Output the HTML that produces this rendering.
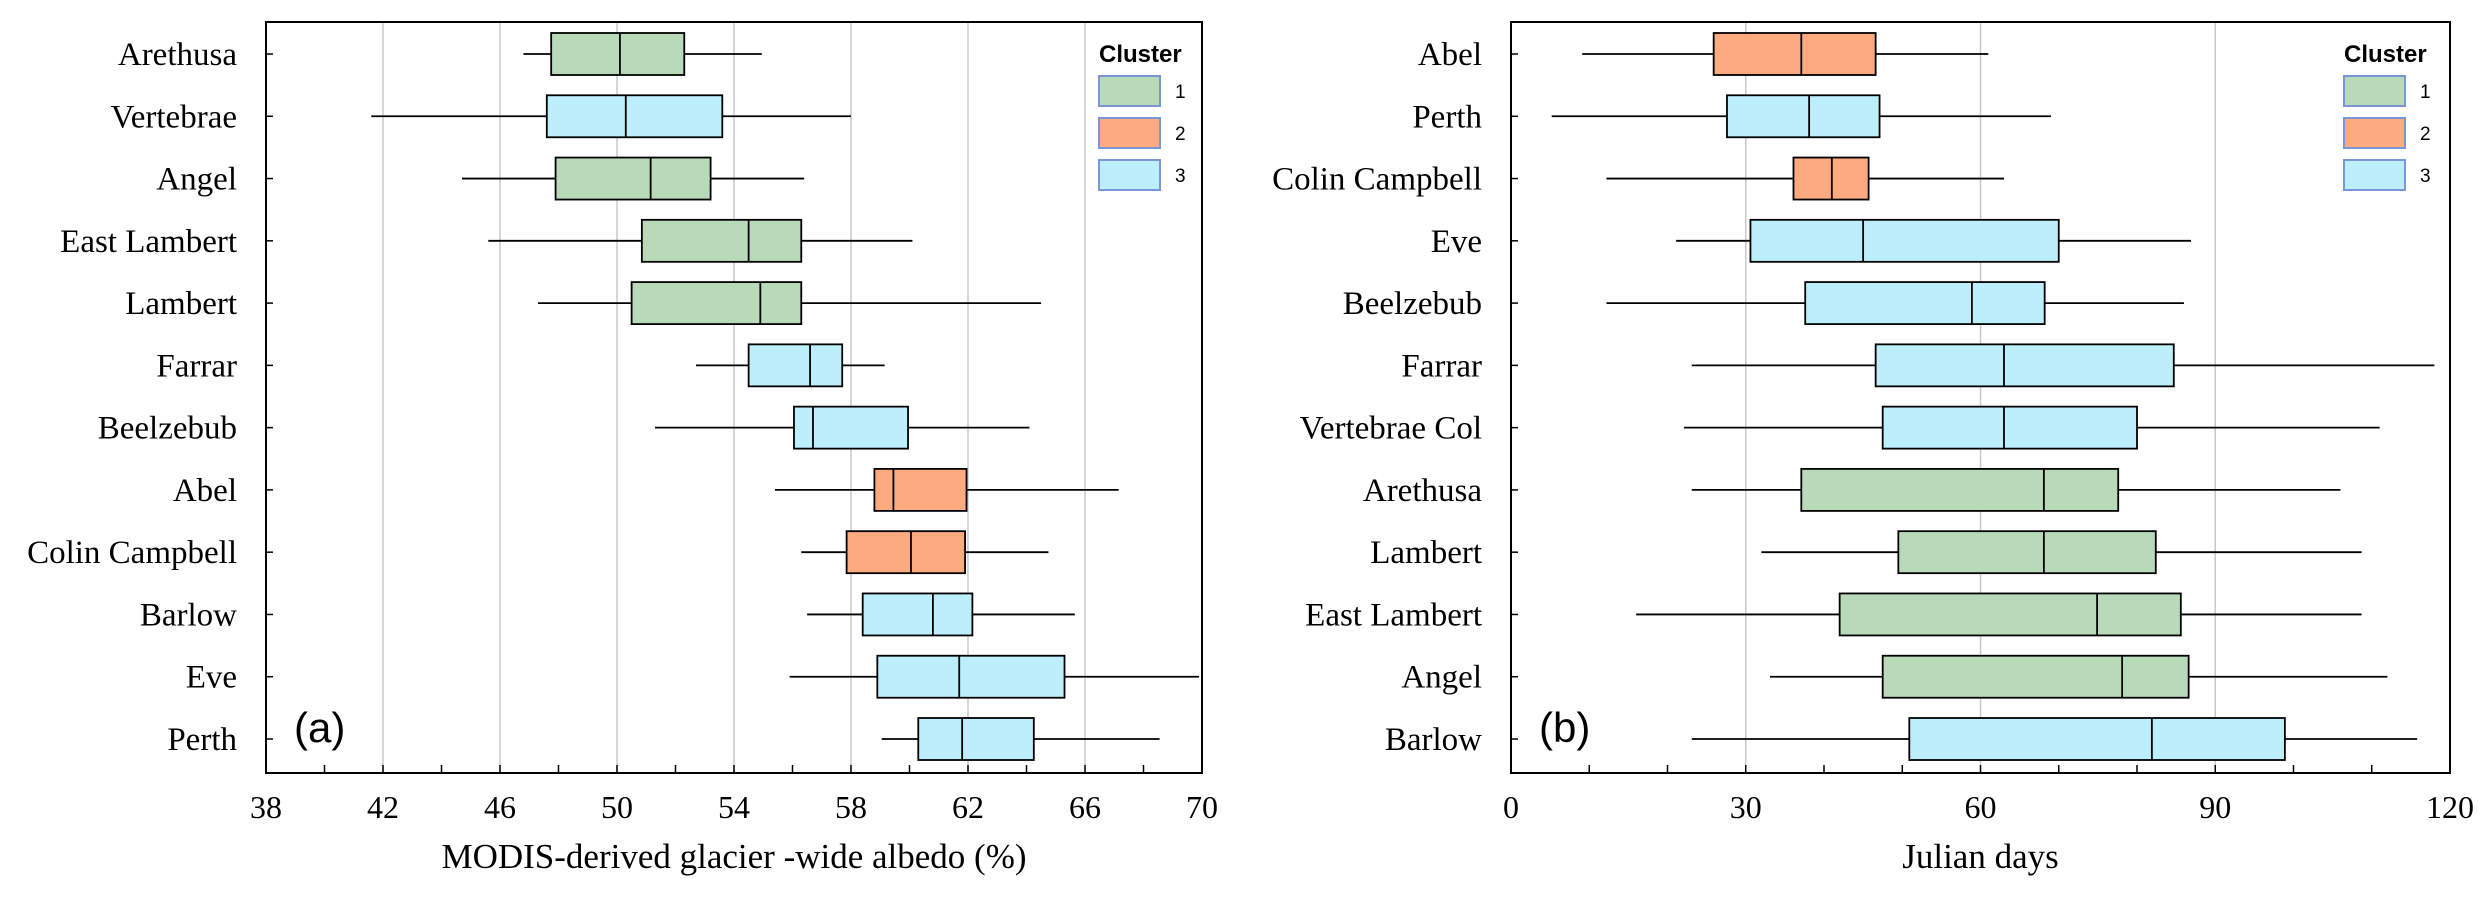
<!DOCTYPE html>
<html><head><meta charset="utf-8"><style>
html,body{margin:0;padding:0;background:#fff;overflow:hidden;}
svg{display:block;}
</style></head><body>
<svg id="chart" width="2483" height="900" xmlns="http://www.w3.org/2000/svg"></svg>
<script>
const clusterColors = ['#b9dab9','#fdaa80','#bdeefc'];
// Panel (a)
const catsA = ['Arethusa','Vertebrae','Angel','East Lambert','Lambert','Farrar','Beelzebub','Abel','Colin Campbell','Barlow','Eve','Perth'];
const clusterA = [1,3,1,1,1,3,3,2,2,3,3,3];
const minA = [46.8,41.6,44.7,45.6,47.3,52.7,51.3,55.4,56.3,56.5,55.9,59.05];
const q1A  = [47.75,47.6,47.9,50.85,50.5,54.5,56.05,58.8,57.85,58.4,58.9,60.3];
const medA = [50.1,50.3,51.15,54.5,54.9,56.6,56.7,59.45,60.05,60.8,61.7,61.8];
const q3A  = [52.3,53.6,53.2,56.3,56.3,57.7,59.95,61.95,61.9,62.15,65.3,64.25];
const maxA = [54.95,58.0,56.4,60.1,64.5,59.15,64.1,67.15,64.75,65.65,69.9,68.55];
const ticksA = [38,42,46,50,54,58,62,66,70];
const minorA = [40,44,48,52,56,60,64,68];
// Panel (b)
const catsB = ['Abel','Perth','Colin Campbell','Eve','Beelzebub','Farrar','Vertebrae Col','Arethusa','Lambert','East Lambert','Angel','Barlow'];
const clusterB = [2,3,2,3,3,3,3,1,1,1,1,3];
const minB = [9.1,5.2,12.2,21.1,12.2,23.1,22.1,23.1,32.0,16.0,33.1,23.1];
const q1B  = [25.9,27.6,36.1,30.6,37.6,46.6,47.5,37.1,49.5,42.0,47.5,50.9];
const medB = [37.1,38.1,41.0,45.0,58.9,63.0,63.0,68.1,68.1,74.9,78.1,81.9];
const q3B  = [46.6,47.1,45.7,70.0,68.2,84.7,80.0,77.6,82.4,85.6,86.6,98.9];
const maxB = [61.0,69.0,63.0,86.9,86.0,118,111,106,108.7,108.7,112,115.8];
const ticksB = [0,30,60,90,120];
const minorB = [10,20,40,50,70,80,100,110];

const NS='http://www.w3.org/2000/svg';
const svg=document.getElementById('chart');
function mk(tag,attrs,parent,text){const e=document.createElementNS(NS,tag);for(const k in attrs)e.setAttribute(k,attrs[k]);if(text!==undefined)e.textContent=text;(parent||svg).appendChild(e);return e;}
const serif='"Liberation Serif", serif', sans='"Liberation Sans", sans-serif';

function panel(p){
  const g=mk('g',{});
  
  
  const x=v=>p.x0+(v-p.vmin)/(p.vmax-p.vmin)*(p.x1-p.x0);
  const y=i=>p.yTop+i*(p.yBot-p.yTop)/(p.cats.length-1);
  p.ticks.forEach((t,i)=>{ if(i>0&&i<p.ticks.length-1){const l=mk('line',{x1:x(t),x2:x(t),y1:p.top,y2:p.bottom,stroke:'#c8c8c8','stroke-width':1.5},g);
    }});
  p.cats.forEach((c,i)=>{
    const bg=mk('g',{},g);
    
    
    const cy=y(i),h=21;
    mk('line',{x1:x(p.mn[i]),x2:x(p.q1[i]),y1:cy,y2:cy,stroke:'#000','stroke-width':1.8},bg);
    mk('line',{x1:x(p.q3[i]),x2:x(p.mx[i]),y1:cy,y2:cy,stroke:'#000','stroke-width':1.8},bg);
    mk('rect',{x:x(p.q1[i]),y:cy-h,width:x(p.q3[i])-x(p.q1[i]),height:2*h,fill:clusterColors[p.cl[i]-1],stroke:'#000','stroke-width':1.8},bg);
    mk('line',{x1:x(p.md[i]),x2:x(p.md[i]),y1:cy-h,y2:cy+h,stroke:'#000','stroke-width':1.8},bg);
    const t=mk('text',{x:p.labelX,y:cy+11,'text-anchor':'end','font-family':serif,'font-size':33},g,c);
    
    mk('line',{x1:p.x0,x2:p.x0+7,y1:cy,y2:cy,stroke:'#000','stroke-width':1.5},g);
  });
  const f=mk('rect',{x:p.x0,y:p.top,width:p.x1-p.x0,height:p.bottom-p.top,fill:'none',stroke:'#000','stroke-width':2},g);
  
  p.ticks.forEach(t=>{mk('line',{x1:x(t),x2:x(t),y1:p.bottom,y2:p.bottom-8,stroke:'#000','stroke-width':1.5},g);
    const tl=mk('text',{x:x(t),y:p.bottom+45,'text-anchor':'middle','font-family':serif,'font-size':32},g,String(t));
    });
  p.minor.forEach(t=>mk('line',{x1:x(t),x2:x(t),y1:p.bottom,y2:p.bottom-8,stroke:'#000','stroke-width':1.5},g));
  const at=mk('text',{x:(p.x0+p.x1)/2,y:868,'text-anchor':'middle','font-family':serif,'font-size':35},g,p.title);
  
  const pl=mk('text',{x:p.x0+28,y:742,'font-family':sans,'font-size':42},g,'('+p.id+')');
  
  const lg=mk('g',{},g);
  
  mk('text',{x:p.legX,y:62,'font-family':sans,'font-size':24,'font-weight':'bold'},lg,'Cluster');
  [0,1,2].forEach(k=>{
    const yy=76+k*42;
    const e=mk('g',{},lg);
    
    mk('rect',{x:p.legX,y:yy,width:61,height:30,fill:clusterColors[k],stroke:'#7a96d6','stroke-width':2},e);
    mk('text',{x:p.legX+76,y:yy+22,'font-family':sans,'font-size':19},e,String(k+1));
  });
}
panel({id:'a',cats:catsA,cl:clusterA,mn:minA,q1:q1A,md:medA,q3:q3A,mx:maxA,ticks:ticksA,minor:minorA,
  vmin:38,vmax:70,x0:266,x1:1202,top:22,bottom:773,yTop:54,yBot:739,labelX:237,legX:1099,title:'MODIS-derived glacier -wide albedo (%)'});
panel({id:'b',cats:catsB,cl:clusterB,mn:minB,q1:q1B,md:medB,q3:q3B,mx:maxB,ticks:ticksB,minor:minorB,
  vmin:0,vmax:120,x0:1511,x1:2450,top:22,bottom:773,yTop:54,yBot:739,labelX:1482,legX:2344,title:'Julian days'});
</script>
</body></html>
